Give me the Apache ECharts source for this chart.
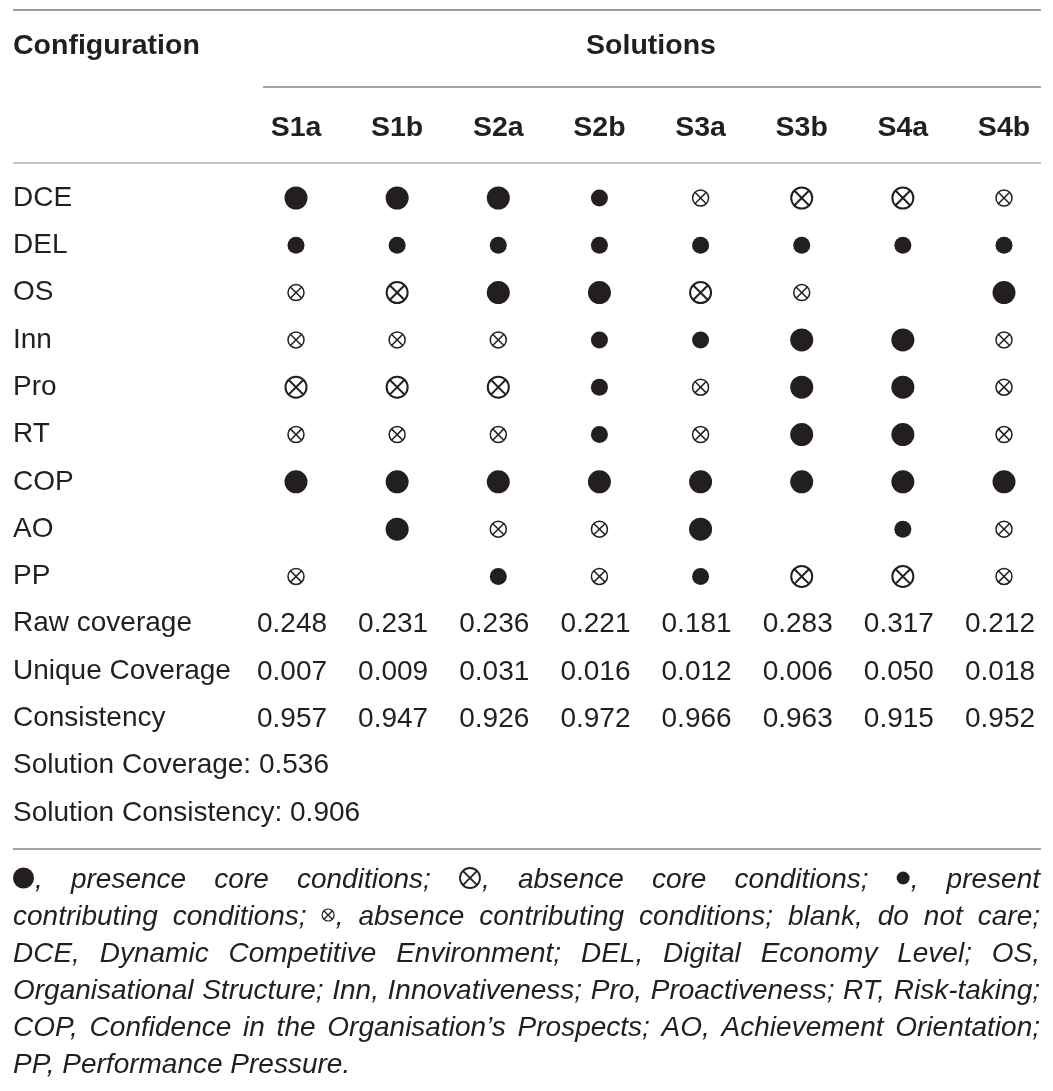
<!DOCTYPE html>
<html><head><meta charset="utf-8">
<script src="https://cdn.jsdelivr.net/npm/echarts@6/dist/echarts.min.js"></script>
<style>html,body{margin:0;padding:0;background:#fff}#c{width:1053px;height:1091px}</style>
</head><body><div id="c"></div>
<script>
// ---------- data ----------
const solutions = ['S1a','S1b','S2a','S2b','S3a','S3b','S4a','S4b'];
const conditions = ['DCE','DEL','OS','Inn','Pro','RT','COP','AO','PP'];
// P = core presence, p = contributing presence, A = core absence, a = contributing absence, '' = do not care
const DCE = ['P','P','P','p','a','A','A','a'];
const DEL = ['p','p','p','p','p','p','p','p'];
const OS  = ['a','A','P','P','A','a','', 'P'];
const Inn = ['a','a','a','p','p','P','P','a'];
const Pro = ['A','A','A','p','a','P','P','a'];
const RT  = ['a','a','a','p','a','P','P','a'];
const COP = ['P','P','P','P','P','P','P','P'];
const AO  = ['', 'P','a','a','P','', 'p','a'];
const PP  = ['a','', 'p','a','p','A','A','a'];
const configRows = [DCE, DEL, OS, Inn, Pro, RT, COP, AO, PP];

const metricLabels = ['Raw coverage','Unique Coverage','Consistency'];
const rawCoverage    = [0.248,0.231,0.236,0.221,0.181,0.283,0.317,0.212];
const uniqueCoverage = [0.007,0.009,0.031,0.016,0.012,0.006,0.050,0.018];
const consistency    = [0.957,0.947,0.926,0.972,0.966,0.963,0.915,0.952];
const metricRows = [rawCoverage, uniqueCoverage, consistency];
const solutionCoverage = 0.536;
const solutionConsistency = 0.906;

const footnoteLines = [
  '{P}, presence core conditions; {A}, absence core conditions; {p}, present',
  'contributing conditions; {a}, absence contributing conditions; blank, do not care;',
  'DCE, Dynamic Competitive Environment; DEL, Digital Economy Level; OS,',
  'Organisational Structure; Inn, Innovativeness; Pro, Proactiveness; RT, Risk-taking;',
  'COP, Confidence in the Organisation\u2019s Prospects; AO, Achievement Orientation;',
  'PP, Performance Pressure.'
];

// ---------- build ----------
const INK = '#231f20';
const FAMILY = '"Liberation Sans", Arial, Helvetica, sans-serif';
const rowLabels = conditions.concat(metricLabels, [
  'Solution Coverage: ' + solutionCoverage.toFixed(3),
  'Solution Consistency: ' + solutionConsistency.toFixed(3)
]);

const corePresence = [], contribPresence = [], absence = [];
configRows.forEach((row, r) => row.forEach((v, c) => {
  if (v === 'P') corePresence.push([c, r]);
  else if (v === 'p') contribPresence.push([c, r]);
  else if (v === 'A') absence.push([c, r, 1]);
  else if (v === 'a') absence.push([c, r, 0]);
}));
const metricData = [];
metricRows.forEach((row, k) => row.forEach((v, c) => metricData.push([c, conditions.length + k, v])));

function otimes(cx, cy, r, lw) {
  const d = r * Math.SQRT1_2;
  return [
    {type:'circle', shape:{cx, cy, r}, style:{fill:'#fff', stroke:INK, lineWidth:lw}},
    {type:'line', shape:{x1:cx-d, y1:cy-d, x2:cx+d, y2:cy+d}, style:{stroke:INK, lineWidth:lw}},
    {type:'line', shape:{x1:cx+d, y1:cy-d, x2:cx-d, y2:cy+d}, style:{stroke:INK, lineWidth:lw}}
  ];
}

// ---------- footnote layout (justified) ----------
const FN_SIZE = 28;
const ctx = document.createElement('canvas').getContext('2d');
ctx.font = 'italic ' + FN_SIZE + 'px ' + FAMILY;
const symW = {P:21, A:22, p:13, a:13};
function parseWord(w) {
  const parts = [];
  const re = /\{(\w)\}/g; let last = 0, m;
  while ((m = re.exec(w))) {
    if (m.index > last) parts.push(w.slice(last, m.index));
    parts.push({s: m[1]});
    last = re.lastIndex;
  }
  if (last < w.length) parts.push(w.slice(last));
  return parts;
}
function partW(p) { return typeof p === 'string' ? ctx.measureText(p).width : symW[p.s] + 1; }
const footGraphics = [];
const FX0 = 13, FX1 = 1040, FY0 = 880, FLH = 37;
footnoteLines.forEach((line, i) => {
  const words = line.split(' ').map(parseWord);
  const widths = words.map(ps => ps.reduce((s, p) => s + partW(p), 0));
  const total = widths.reduce((a, b) => a + b, 0);
  const justify = i < footnoteLines.length - 1;
  const gap = justify ? (FX1 - FX0 - total) / (words.length - 1) : ctx.measureText(' ').width;
  const y = FY0 + i * FLH;
  let x = FX0;
  words.forEach((ps) => {
    ps.forEach(p => {
      const w = partW(p);
      if (typeof p === 'string') {
        footGraphics.push({type:'text', x, y, style:{text:p, fontSize:FN_SIZE, fontFamily:FAMILY, fontStyle:'italic', fill:INK, verticalAlign:'middle', align:'left'}});
      } else {
        const cx = x + symW[p.s] / 2, cy = y - 2;
        if (p.s === 'P') footGraphics.push({type:'circle', shape:{cx, cy, r:10.5}, style:{fill:INK}});
        else if (p.s === 'p') footGraphics.push({type:'circle', shape:{cx, cy, r:6.5}, style:{fill:INK}});
        else if (p.s === 'A') footGraphics.push({type:'group', children: otimes(cx, cy, 10, 1.8)});
        else footGraphics.push({type:'group', children: otimes(cx, cy, 6, 1.2)});
      }
      x += w;
    });
    x += gap;
  });
});

const rules = [
  {y:10,  x1:13,  x2:1041, c:'#9c9c9c'},
  {y:87,  x1:263, x2:1041, c:'#a4a4a4'},
  {y:163, x1:13,  x2:1041, c:'#c6c6c6'},
  {y:849, x1:13,  x2:1041, c:'#a4a4a4'}
].map(l => ({type:'line', shape:{x1:l.x1, y1:l.y, x2:l.x2, y2:l.y}, style:{stroke:l.c, lineWidth:1.8}}));

const HEAD_SIZE = 28.5;
const headers = [
  {type:'text', x:13, y:46, style:{text:'Configuration', fontSize:HEAD_SIZE, fontWeight:'bold', fontFamily:FAMILY, fill:INK, verticalAlign:'middle', align:'left'}},
  {type:'text', x:651, y:46, style:{text:'Solutions', fontSize:HEAD_SIZE, fontWeight:'bold', fontFamily:FAMILY, fill:INK, verticalAlign:'middle', align:'center'}}
];

const chart = echarts.init(document.getElementById('c'), null, {renderer:'canvas'});
chart.setOption({
  animation: false,
  backgroundColor: '#fff',
  grid: {left:296, right:49, top:198, bottom:278},
  xAxis: {
    type:'value', min:0, max:solutions.length - 1, interval:1, position:'top',
    axisLine:{show:false}, axisTick:{show:false}, splitLine:{show:false},
    axisLabel:{formatter: v => solutions[v] || '', fontSize:HEAD_SIZE, fontWeight:'bold', fontFamily:FAMILY, color:INK, margin:70, verticalAlign:'middle'}
  },
  yAxis: {
    type:'value', min:0, max:rowLabels.length - 1, interval:1, inverse:true,
    axisLine:{show:false}, axisTick:{show:false}, splitLine:{show:false},
    axisLabel:{formatter: v => rowLabels[v] || '', fontSize:28, fontFamily:FAMILY, color:INK, align:'left', margin:283, padding:[6,0,0,0]}
  },
  series: [
    {type:'scatter', name:'core presence', data:corePresence, symbol:'circle', symbolSize:23, itemStyle:{color:INK, opacity:1}},
    {type:'scatter', name:'contributing presence', data:contribPresence, symbol:'circle', symbolSize:17, itemStyle:{color:INK, opacity:1}},
    {type:'custom', name:'absence', data:absence, renderItem(params, api) {
      const pt = api.coord([api.value(0), api.value(1)]);
      const big = api.value(2) === 1;
      return {type:'group', children: otimes(pt[0], pt[1], big ? 10.5 : 8, big ? 2 : 1.5)};
    }},
    {type:'scatter', name:'metrics', data:metricData, symbolSize:1, itemStyle:{color:'#fff', opacity:1},
      label:{show:true, position:'inside', offset:[-4,1], formatter: p => p.value[2].toFixed(3), fontSize:28, fontFamily:FAMILY, color:INK, opacity:1}}
  ],
  graphic: rules.concat(headers, footGraphics)
});
</script>
</body></html>
